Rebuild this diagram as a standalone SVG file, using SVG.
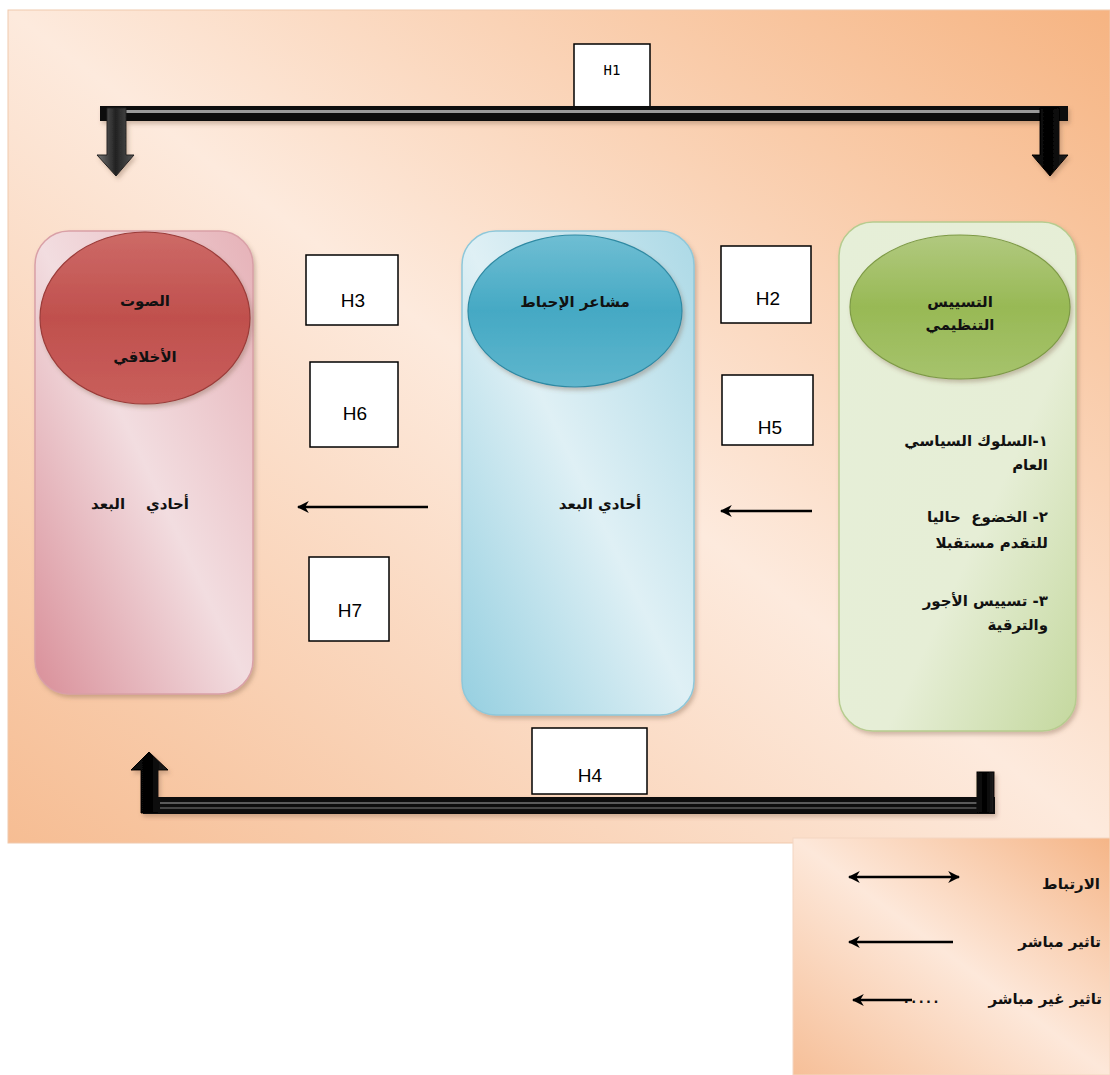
<svg xmlns="http://www.w3.org/2000/svg" width="1110" height="1075" viewBox="0 0 1110 1075">
  <defs>
    <linearGradient id="bgGrad" x1="1" y1="0" x2="0" y2="1">
      <stop offset="0" stop-color="#f6b482"/>
      <stop offset="0.5" stop-color="#fdeadd"/>
      <stop offset="1" stop-color="#f6bd93"/>
    </linearGradient>
    <linearGradient id="legendGrad" x1="1" y1="0" x2="0" y2="1">
      <stop offset="0" stop-color="#f5b587"/>
      <stop offset="0.5" stop-color="#fde8da"/>
      <stop offset="1" stop-color="#f6bf98"/>
    </linearGradient>
    <linearGradient id="redBox" x1="0" y1="1" x2="1" y2="0">
      <stop offset="0" stop-color="#d98f99"/>
      <stop offset="0.5" stop-color="#f2dde0"/>
      <stop offset="1" stop-color="#e6b2b8"/>
    </linearGradient>
    <linearGradient id="blueBox" x1="0" y1="1" x2="1" y2="0">
      <stop offset="0" stop-color="#95cfe0"/>
      <stop offset="0.5" stop-color="#dff0f5"/>
      <stop offset="1" stop-color="#acd9e6"/>
    </linearGradient>
    <linearGradient id="greenBox" x1="0" y1="0" x2="1" y2="1">
      <stop offset="0" stop-color="#e6efd8"/>
      <stop offset="0.6" stop-color="#e6eed6"/>
      <stop offset="1" stop-color="#c4d89e"/>
    </linearGradient>
    <linearGradient id="redEll" x1="0" y1="0" x2="0" y2="1">
      <stop offset="0" stop-color="#cd6a67"/>
      <stop offset="0.5" stop-color="#c0504d"/>
      <stop offset="1" stop-color="#c95f5c"/>
    </linearGradient>
    <linearGradient id="blueEll" x1="0" y1="0" x2="0" y2="1">
      <stop offset="0" stop-color="#6fbed3"/>
      <stop offset="0.5" stop-color="#45a9c4"/>
      <stop offset="1" stop-color="#5fb6cd"/>
    </linearGradient>
    <linearGradient id="greenEll" x1="0" y1="0" x2="0" y2="1">
      <stop offset="0" stop-color="#b1c97f"/>
      <stop offset="0.5" stop-color="#98b955"/>
      <stop offset="1" stop-color="#a6c36c"/>
    </linearGradient>
    <linearGradient id="greyShaft" x1="0" y1="0" x2="1" y2="0">
      <stop offset="0" stop-color="#777"/>
      <stop offset="0.5" stop-color="#222"/>
      <stop offset="1" stop-color="#555"/>
    </linearGradient>
    <linearGradient id="blackShaft" x1="0" y1="0" x2="1" y2="0">
      <stop offset="0" stop-color="#111"/>
      <stop offset="0.5" stop-color="#000"/>
      <stop offset="1" stop-color="#222"/>
    </linearGradient>
    <filter id="soft" x="-10%" y="-10%" width="120%" height="120%">
      <feDropShadow dx="2" dy="3" stdDeviation="2" flood-color="#7a5a40" flood-opacity="0.35"/>
    </filter>
    <marker id="head" viewBox="0 0 10 10" refX="9" refY="5" markerWidth="5" markerHeight="5" orient="auto-start-reverse">
      <path d="M0,0 L10,5 L0,10 L3,5 Z" fill="#000"/>
    </marker>
    <style>
      .hbox { fill: #fff; stroke: #000; stroke-width: 1.5; }
      .hlab { font-family: "Liberation Sans", Arial, sans-serif; font-size: 19px; fill: #000; text-anchor: middle; }
      .ar { font-family: "DejaVu Sans", "Noto Sans", sans-serif; font-size: 15px; font-weight: bold; fill: #111; white-space: pre; }
      .arc { text-anchor: middle; }
      .arr { direction: rtl; unicode-bidi: embed; text-anchor: start; }
      .ell { font-size: 15px; }
      .line { stroke: #000; stroke-width: 2.4; fill: none; }
    </style>
  </defs>

  <!-- main panel -->
  <rect x="8" y="10" width="1102" height="833" fill="url(#bgGrad)" stroke="#f0c9ad" stroke-width="1"/>
  <!-- legend panel -->
  <rect x="793" y="838" width="317" height="237" fill="url(#legendGrad)" stroke="#f3d6c1" stroke-width="1"/>

  <!-- organisational politics -->
  <g id="node-politics">
    <rect x="839" y="222" width="237" height="509" rx="34" fill="url(#greenBox)" stroke="#b7cc8f" stroke-width="1.5" filter="url(#soft)"/>
    <ellipse cx="960" cy="307" rx="110" ry="72" fill="url(#greenEll)" stroke="#7d9a45" stroke-width="1.2" filter="url(#soft)"/>
    <text class="ar arc ell" x="960" y="307">التسييس</text>
    <text class="ar arc ell" x="960" y="330">التنظيمي</text>
    <text class="ar arr" x="1048" y="446">١-السلوك السياسي</text>
    <text class="ar arr" x="1048" y="470">العام</text>
    <text class="ar arr" x="1048" y="522">٢- الخضوع  حاليا</text>
    <text class="ar arr" x="1048" y="548">للتقدم مستقبلا</text>
    <text class="ar arr" x="1048" y="606">٣- تسييس الأجور</text>
    <text class="ar arr" x="1048" y="630">والترقية</text>
  </g>

  <!-- frustration -->
  <g id="node-frustration">
    <rect x="462" y="231" width="232" height="484" rx="34" fill="url(#blueBox)" stroke="#8ec8da" stroke-width="1.5" filter="url(#soft)"/>
    <ellipse cx="575" cy="311" rx="107" ry="76" fill="url(#blueEll)" stroke="#2f8aa3" stroke-width="1.2" filter="url(#soft)"/>
    <text class="ar arc ell" x="575" y="307">مشاعر الإحباط</text>
    <text class="ar arc" x="600" y="509">أحادي البعد</text>
  </g>

  <!-- moral voice -->
  <g id="node-voice">
    <rect x="35" y="231" width="218" height="463" rx="34" fill="url(#redBox)" stroke="#d9a0a7" stroke-width="1.5" filter="url(#soft)"/>
    <ellipse cx="145" cy="318" rx="105" ry="86" fill="url(#redEll)" stroke="#9b3b39" stroke-width="1.2" filter="url(#soft)"/>
    <text class="ar arc ell" x="145" y="306">الصوت</text>
    <text class="ar arc ell" x="145" y="362">الأخلاقي</text>
    <text class="ar arc" x="140" y="509" xml:space="preserve">أحادي    البعد</text>
  </g>

  <!-- hypothesis labels -->
  <g id="hyp-H1">
    <rect class="hbox" x="574" y="44" width="76" height="63"/>
    <text x="612" y="75" font-family="'DejaVu Sans Mono', monospace" font-size="14" text-anchor="middle" fill="#000">H1</text>
  </g>
  <g id="hyp-H2">
    <rect class="hbox" x="721" y="246" width="90" height="77"/>
    <text class="hlab" x="768" y="305">H2</text>
  </g>
  <g id="hyp-H3">
    <rect class="hbox" x="306" y="255" width="92" height="70"/>
    <text class="hlab" x="353" y="307">H3</text>
  </g>
  <g id="hyp-H5">
    <rect class="hbox" x="722" y="375" width="91" height="70"/>
    <text class="hlab" x="770" y="434">H5</text>
  </g>
  <g id="hyp-H6">
    <rect class="hbox" x="310" y="362" width="88" height="85"/>
    <text class="hlab" x="355" y="420">H6</text>
  </g>
  <g id="hyp-H7">
    <rect class="hbox" x="309" y="557" width="80" height="84"/>
    <text class="hlab" x="350" y="617">H7</text>
  </g>
  <g id="hyp-H4">
    <rect class="hbox" x="532" y="728" width="115" height="66"/>
    <text class="hlab" x="590" y="782">H4</text>
  </g>

  <!-- connectors -->
  <g id="connectors">
    <!-- H1 bracket -->
    <g filter="url(#soft)">
      <rect x="100" y="106" width="968" height="15" fill="#0a0a0a"/>
      <rect x="118" y="110" width="930" height="3" fill="#9a9a9a"/>
      <path d="M107,108 L126,108 L126,155 L134,155 L116,176 L97,155 L107,155 Z" fill="url(#greyShaft)" stroke="#222" stroke-width="1"/>
      <path d="M1040,108 L1059,108 L1059,155 L1068,155 L1050,176 L1032,155 L1040,155 Z" fill="url(#blackShaft)" stroke="#000" stroke-width="1"/>
    </g>
    <!-- H4 bracket -->
    <g filter="url(#soft)">
      <rect x="143" y="797" width="852" height="17" fill="#111"/>
      <rect x="160" y="802" width="820" height="2" fill="#5a5a5a"/>
      <rect x="160" y="807" width="820" height="2" fill="#444"/>
      <path d="M141,813 L141,770 L131,770 L149,752 L168,770 L158,770 L158,813 Z" fill="url(#blackShaft)" stroke="#000" stroke-width="1"/>
      <rect x="977" y="772" width="17" height="41" fill="url(#blackShaft)" stroke="#000" stroke-width="1"/>
    </g>
    <!-- direct effects -->
    <line class="line" x1="428" y1="507" x2="298" y2="507" marker-end="url(#head)"/>
    <line class="line" x1="812" y1="511" x2="721" y2="511" marker-end="url(#head)"/>
  </g>

  <!-- key -->
  <g id="legend">
    <line class="line" x1="849" y1="877" x2="959" y2="877" marker-start="url(#head)" marker-end="url(#head)"/>
    <text class="ar arr" x="1100" y="889">الارتباط</text>
    <line class="line" x1="953" y1="942" x2="849" y2="942" marker-end="url(#head)"/>
    <text class="ar arr" x="1101" y="947">تاثير مباشر</text>
    <line class="line" x1="912" y1="1000" x2="853" y2="1000" marker-end="url(#head)"/>
    <text x="904" y="1003" font-family="'Liberation Sans', sans-serif" font-size="16" font-weight="bold" letter-spacing="3" fill="#111">.....</text>
    <text class="ar arr" x="1102" y="1004">تاثير غير مباشر</text>
  </g>
</svg>
